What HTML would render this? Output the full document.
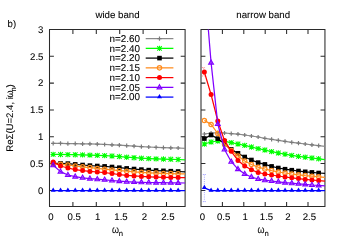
<!DOCTYPE html>
<html><head><meta charset="utf-8"><title>chart</title>
<style>
html,body{margin:0;padding:0;background:#fff;}
body{width:350px;height:246px;position:relative;overflow:hidden;font-family:"Liberation Sans",sans-serif;}
svg text{font-family:"Liberation Sans",sans-serif;font-size:9.6px;fill:#000;stroke:#000;stroke-width:0.08px;text-rendering:geometricPrecision;}
</style></head><body>
<svg width="350" height="246" viewBox="0 0 350 246" style="position:absolute;left:0;top:0;will-change:transform">
<defs><clipPath id="c1"><rect x="49.5" y="29.5" width="135.6" height="176.9"/></clipPath><clipPath id="c2"><rect x="201.0" y="29.5" width="123.94999999999999" height="176.9"/></clipPath></defs>
<path d="M49.5 29.5H185.1V206.4H49.5ZM72.90 206.4v-4.4M72.90 29.5v4.4M96.30 206.4v-4.4M96.30 29.5v4.4M119.70 206.4v-4.4M119.70 29.5v4.4M143.10 206.4v-4.4M143.10 29.5v4.4M166.50 206.4v-4.4M166.50 29.5v4.4M49.5 190.40h4.4M185.1 190.40h-4.4M49.5 163.59h4.4M185.1 163.59h-4.4M49.5 136.77h4.4M185.1 136.77h-4.4M49.5 109.95h4.4M185.1 109.95h-4.4M49.5 83.14h4.4M185.1 83.14h-4.4M49.5 56.32h4.4M185.1 56.32h-4.4" fill="none" stroke="#2a2a2a" stroke-width="1.05" stroke-linejoin="miter"/>
<g clip-path="url(#c1)">
<path d="M53.18 143.40L60.53 143.45L67.88 143.54L75.23 143.66L82.58 143.80L89.93 143.97L97.28 144.21L104.63 144.48L111.99 144.80L119.34 145.22L126.69 145.70L134.04 146.16L141.39 146.61L148.74 147.00L156.09 147.33L163.45 147.60L170.80 147.80L178.15 148.00L185.50 148.30" fill="none" stroke="#8a8a8a" stroke-width="1.25" stroke-linejoin="round"/>
<path d="M51.08 143.40H55.28M53.18 141.30V145.50" stroke="#7a7a7a" stroke-width="1.2" fill="none"/>
<path d="M58.43 143.45H62.63M60.53 141.35V145.55" stroke="#7a7a7a" stroke-width="1.2" fill="none"/>
<path d="M65.78 143.54H69.98M67.88 141.44V145.64" stroke="#7a7a7a" stroke-width="1.2" fill="none"/>
<path d="M73.13 143.66H77.33M75.23 141.56V145.76" stroke="#7a7a7a" stroke-width="1.2" fill="none"/>
<path d="M80.48 143.80H84.68M82.58 141.70V145.90" stroke="#7a7a7a" stroke-width="1.2" fill="none"/>
<path d="M87.83 143.97H92.03M89.93 141.87V146.07" stroke="#7a7a7a" stroke-width="1.2" fill="none"/>
<path d="M95.18 144.21H99.38M97.28 142.11V146.31" stroke="#7a7a7a" stroke-width="1.2" fill="none"/>
<path d="M102.53 144.48H106.73M104.63 142.38V146.58" stroke="#7a7a7a" stroke-width="1.2" fill="none"/>
<path d="M109.89 144.80H114.09M111.99 142.70V146.90" stroke="#7a7a7a" stroke-width="1.2" fill="none"/>
<path d="M117.24 145.22H121.44M119.34 143.12V147.32" stroke="#7a7a7a" stroke-width="1.2" fill="none"/>
<path d="M124.59 145.70H128.79M126.69 143.60V147.80" stroke="#7a7a7a" stroke-width="1.2" fill="none"/>
<path d="M131.94 146.16H136.14M134.04 144.06V148.26" stroke="#7a7a7a" stroke-width="1.2" fill="none"/>
<path d="M139.29 146.61H143.49M141.39 144.51V148.71" stroke="#7a7a7a" stroke-width="1.2" fill="none"/>
<path d="M146.64 147.00H150.84M148.74 144.90V149.10" stroke="#7a7a7a" stroke-width="1.2" fill="none"/>
<path d="M153.99 147.33H158.19M156.09 145.23V149.43" stroke="#7a7a7a" stroke-width="1.2" fill="none"/>
<path d="M161.35 147.60H165.55M163.45 145.50V149.70" stroke="#7a7a7a" stroke-width="1.2" fill="none"/>
<path d="M168.70 147.80H172.90M170.80 145.70V149.90" stroke="#7a7a7a" stroke-width="1.2" fill="none"/>
<path d="M176.05 148.00H180.25M178.15 145.90V150.10" stroke="#7a7a7a" stroke-width="1.2" fill="none"/>
<path d="M53.18 154.40L60.53 154.47L67.88 154.59L75.23 154.73L82.58 154.90L89.93 155.09L97.28 155.34L104.63 155.64L111.99 156.00L119.34 156.57L126.69 157.20L134.04 157.73L141.39 158.22L148.74 158.60L156.09 158.86L163.45 159.07L170.80 159.27L178.15 159.50L185.50 159.80" fill="none" stroke="#00ff00" stroke-width="1.25" stroke-linejoin="round"/>
<path d="M50.48 154.40H55.88M53.18 151.70V157.10M50.88 152.10L55.48 156.70M50.88 156.70L55.48 152.10" stroke="#00ff00" stroke-width="1.05" fill="none"/>
<path d="M57.83 154.47H63.23M60.53 151.77V157.17M58.23 152.17L62.83 156.77M58.23 156.77L62.83 152.17" stroke="#00ff00" stroke-width="1.05" fill="none"/>
<path d="M65.18 154.59H70.58M67.88 151.89V157.29M65.58 152.29L70.18 156.89M65.58 156.89L70.18 152.29" stroke="#00ff00" stroke-width="1.05" fill="none"/>
<path d="M72.53 154.73H77.93M75.23 152.03V157.43M72.93 152.43L77.53 157.03M72.93 157.03L77.53 152.43" stroke="#00ff00" stroke-width="1.05" fill="none"/>
<path d="M79.88 154.90H85.28M82.58 152.20V157.60M80.28 152.60L84.88 157.20M80.28 157.20L84.88 152.60" stroke="#00ff00" stroke-width="1.05" fill="none"/>
<path d="M87.23 155.09H92.63M89.93 152.39V157.79M87.63 152.79L92.23 157.39M87.63 157.39L92.23 152.79" stroke="#00ff00" stroke-width="1.05" fill="none"/>
<path d="M94.58 155.34H99.98M97.28 152.64V158.04M94.98 153.04L99.58 157.64M94.98 157.64L99.58 153.04" stroke="#00ff00" stroke-width="1.05" fill="none"/>
<path d="M101.93 155.64H107.33M104.63 152.94V158.34M102.33 153.34L106.93 157.94M102.33 157.94L106.93 153.34" stroke="#00ff00" stroke-width="1.05" fill="none"/>
<path d="M109.29 156.00H114.69M111.99 153.30V158.70M109.69 153.70L114.29 158.30M109.69 158.30L114.29 153.70" stroke="#00ff00" stroke-width="1.05" fill="none"/>
<path d="M116.64 156.57H122.04M119.34 153.87V159.27M117.04 154.27L121.64 158.87M117.04 158.87L121.64 154.27" stroke="#00ff00" stroke-width="1.05" fill="none"/>
<path d="M123.99 157.20H129.39M126.69 154.50V159.90M124.39 154.90L128.99 159.50M124.39 159.50L128.99 154.90" stroke="#00ff00" stroke-width="1.05" fill="none"/>
<path d="M131.34 157.73H136.74M134.04 155.03V160.43M131.74 155.43L136.34 160.03M131.74 160.03L136.34 155.43" stroke="#00ff00" stroke-width="1.05" fill="none"/>
<path d="M138.69 158.22H144.09M141.39 155.52V160.92M139.09 155.92L143.69 160.52M139.09 160.52L143.69 155.92" stroke="#00ff00" stroke-width="1.05" fill="none"/>
<path d="M146.04 158.60H151.44M148.74 155.90V161.30M146.44 156.30L151.04 160.90M146.44 160.90L151.04 156.30" stroke="#00ff00" stroke-width="1.05" fill="none"/>
<path d="M153.39 158.86H158.79M156.09 156.16V161.56M153.79 156.56L158.39 161.16M153.79 161.16L158.39 156.56" stroke="#00ff00" stroke-width="1.05" fill="none"/>
<path d="M160.75 159.07H166.15M163.45 156.37V161.77M161.15 156.77L165.75 161.37M161.15 161.37L165.75 156.77" stroke="#00ff00" stroke-width="1.05" fill="none"/>
<path d="M168.10 159.27H173.50M170.80 156.57V161.97M168.50 156.97L173.10 161.57M168.50 161.57L173.10 156.97" stroke="#00ff00" stroke-width="1.05" fill="none"/>
<path d="M175.45 159.50H180.85M178.15 156.80V162.20M175.85 157.20L180.45 161.80M175.85 161.80L180.45 157.20" stroke="#00ff00" stroke-width="1.05" fill="none"/>
<path d="M53.18 163.40L60.53 163.45L67.88 163.60L75.23 164.40L82.58 165.00L89.93 165.60L97.28 166.00L104.63 166.40L111.99 167.00L119.34 167.70L126.69 168.40L134.04 169.02L141.39 169.60L148.74 170.10L156.09 170.51L163.45 170.86L170.80 171.18L178.15 171.50L185.50 171.80" fill="none" stroke="#000000" stroke-width="1.25" stroke-linejoin="round"/>
<rect x="50.88" y="161.10" width="4.60" height="4.60" fill="#000000"/>
<rect x="58.23" y="161.15" width="4.60" height="4.60" fill="#000000"/>
<rect x="65.58" y="161.30" width="4.60" height="4.60" fill="#000000"/>
<rect x="72.93" y="162.10" width="4.60" height="4.60" fill="#000000"/>
<rect x="80.28" y="162.70" width="4.60" height="4.60" fill="#000000"/>
<rect x="87.63" y="163.30" width="4.60" height="4.60" fill="#000000"/>
<rect x="94.98" y="163.70" width="4.60" height="4.60" fill="#000000"/>
<rect x="102.33" y="164.10" width="4.60" height="4.60" fill="#000000"/>
<rect x="109.69" y="164.70" width="4.60" height="4.60" fill="#000000"/>
<rect x="117.04" y="165.40" width="4.60" height="4.60" fill="#000000"/>
<rect x="124.39" y="166.10" width="4.60" height="4.60" fill="#000000"/>
<rect x="131.74" y="166.72" width="4.60" height="4.60" fill="#000000"/>
<rect x="139.09" y="167.30" width="4.60" height="4.60" fill="#000000"/>
<rect x="146.44" y="167.80" width="4.60" height="4.60" fill="#000000"/>
<rect x="153.79" y="168.21" width="4.60" height="4.60" fill="#000000"/>
<rect x="161.15" y="168.56" width="4.60" height="4.60" fill="#000000"/>
<rect x="168.50" y="168.88" width="4.60" height="4.60" fill="#000000"/>
<rect x="175.85" y="169.20" width="4.60" height="4.60" fill="#000000"/>
<path d="M53.18 164.00L60.53 164.37L67.88 165.00L75.23 166.00L82.58 166.80L89.93 167.60L97.28 168.40L104.63 169.20L111.99 169.90L119.34 170.57L126.69 171.20L134.04 171.80L141.39 172.36L148.74 172.80L156.09 173.13L163.45 173.41L170.80 173.63L178.15 173.80L185.50 173.90" fill="none" stroke="#ff8c1e" stroke-width="1.25" stroke-linejoin="round"/>
<circle cx="53.18" cy="164.00" r="2.15" fill="none" stroke="#ff8c1e" stroke-width="1.25"/>
<circle cx="60.53" cy="164.37" r="2.15" fill="none" stroke="#ff8c1e" stroke-width="1.25"/>
<circle cx="67.88" cy="165.00" r="2.15" fill="none" stroke="#ff8c1e" stroke-width="1.25"/>
<circle cx="75.23" cy="166.00" r="2.15" fill="none" stroke="#ff8c1e" stroke-width="1.25"/>
<circle cx="82.58" cy="166.80" r="2.15" fill="none" stroke="#ff8c1e" stroke-width="1.25"/>
<circle cx="89.93" cy="167.60" r="2.15" fill="none" stroke="#ff8c1e" stroke-width="1.25"/>
<circle cx="97.28" cy="168.40" r="2.15" fill="none" stroke="#ff8c1e" stroke-width="1.25"/>
<circle cx="104.63" cy="169.20" r="2.15" fill="none" stroke="#ff8c1e" stroke-width="1.25"/>
<circle cx="111.99" cy="169.90" r="2.15" fill="none" stroke="#ff8c1e" stroke-width="1.25"/>
<circle cx="119.34" cy="170.57" r="2.15" fill="none" stroke="#ff8c1e" stroke-width="1.25"/>
<circle cx="126.69" cy="171.20" r="2.15" fill="none" stroke="#ff8c1e" stroke-width="1.25"/>
<circle cx="134.04" cy="171.80" r="2.15" fill="none" stroke="#ff8c1e" stroke-width="1.25"/>
<circle cx="141.39" cy="172.36" r="2.15" fill="none" stroke="#ff8c1e" stroke-width="1.25"/>
<circle cx="148.74" cy="172.80" r="2.15" fill="none" stroke="#ff8c1e" stroke-width="1.25"/>
<circle cx="156.09" cy="173.13" r="2.15" fill="none" stroke="#ff8c1e" stroke-width="1.25"/>
<circle cx="163.45" cy="173.41" r="2.15" fill="none" stroke="#ff8c1e" stroke-width="1.25"/>
<circle cx="170.80" cy="173.63" r="2.15" fill="none" stroke="#ff8c1e" stroke-width="1.25"/>
<circle cx="178.15" cy="173.80" r="2.15" fill="none" stroke="#ff8c1e" stroke-width="1.25"/>
<path d="M53.18 162.00L60.53 166.00L67.88 168.00L75.23 169.60L82.58 170.60L89.93 171.40L97.28 172.00L104.63 172.60L111.99 173.50L119.34 174.52L126.69 175.40L134.04 175.98L141.39 176.45L148.74 176.80L156.09 177.06L163.45 177.28L170.80 177.46L178.15 177.60L185.50 177.70" fill="none" stroke="#ff0000" stroke-width="1.25" stroke-linejoin="round"/>
<circle cx="53.18" cy="162.00" r="2.5" fill="#ff0000"/>
<circle cx="60.53" cy="166.00" r="2.5" fill="#ff0000"/>
<circle cx="67.88" cy="168.00" r="2.5" fill="#ff0000"/>
<circle cx="75.23" cy="169.60" r="2.5" fill="#ff0000"/>
<circle cx="82.58" cy="170.60" r="2.5" fill="#ff0000"/>
<circle cx="89.93" cy="171.40" r="2.5" fill="#ff0000"/>
<circle cx="97.28" cy="172.00" r="2.5" fill="#ff0000"/>
<circle cx="104.63" cy="172.60" r="2.5" fill="#ff0000"/>
<circle cx="111.99" cy="173.50" r="2.5" fill="#ff0000"/>
<circle cx="119.34" cy="174.52" r="2.5" fill="#ff0000"/>
<circle cx="126.69" cy="175.40" r="2.5" fill="#ff0000"/>
<circle cx="134.04" cy="175.98" r="2.5" fill="#ff0000"/>
<circle cx="141.39" cy="176.45" r="2.5" fill="#ff0000"/>
<circle cx="148.74" cy="176.80" r="2.5" fill="#ff0000"/>
<circle cx="156.09" cy="177.06" r="2.5" fill="#ff0000"/>
<circle cx="163.45" cy="177.28" r="2.5" fill="#ff0000"/>
<circle cx="170.80" cy="177.46" r="2.5" fill="#ff0000"/>
<circle cx="178.15" cy="177.60" r="2.5" fill="#ff0000"/>
<path d="M53.18 165.20L60.53 171.60L67.88 175.00L75.23 176.60L82.58 177.80L89.93 178.60L97.28 179.20L104.63 179.80L111.99 180.50L119.34 181.17L126.69 181.70L134.04 182.04L141.39 182.31L148.74 182.50L156.09 182.63L163.45 182.72L170.80 182.81L178.15 182.90L185.50 183.00" fill="none" stroke="#8000ff" stroke-width="1.25" stroke-linejoin="round"/>
<path d="M53.18 162.50L55.58 166.70H50.78Z" fill="#8000ff" fill-opacity="0.4" stroke="#8000ff" stroke-width="1.1" stroke-linejoin="miter"/>
<path d="M60.53 168.90L62.93 173.10H58.13Z" fill="#8000ff" fill-opacity="0.4" stroke="#8000ff" stroke-width="1.1" stroke-linejoin="miter"/>
<path d="M67.88 172.30L70.28 176.50H65.48Z" fill="#8000ff" fill-opacity="0.4" stroke="#8000ff" stroke-width="1.1" stroke-linejoin="miter"/>
<path d="M75.23 173.90L77.63 178.10H72.83Z" fill="#8000ff" fill-opacity="0.4" stroke="#8000ff" stroke-width="1.1" stroke-linejoin="miter"/>
<path d="M82.58 175.10L84.98 179.30H80.18Z" fill="#8000ff" fill-opacity="0.4" stroke="#8000ff" stroke-width="1.1" stroke-linejoin="miter"/>
<path d="M89.93 175.90L92.33 180.10H87.53Z" fill="#8000ff" fill-opacity="0.4" stroke="#8000ff" stroke-width="1.1" stroke-linejoin="miter"/>
<path d="M97.28 176.50L99.68 180.70H94.88Z" fill="#8000ff" fill-opacity="0.4" stroke="#8000ff" stroke-width="1.1" stroke-linejoin="miter"/>
<path d="M104.63 177.10L107.03 181.30H102.23Z" fill="#8000ff" fill-opacity="0.4" stroke="#8000ff" stroke-width="1.1" stroke-linejoin="miter"/>
<path d="M111.99 177.80L114.39 182.00H109.59Z" fill="#8000ff" fill-opacity="0.4" stroke="#8000ff" stroke-width="1.1" stroke-linejoin="miter"/>
<path d="M119.34 178.47L121.74 182.67H116.94Z" fill="#8000ff" fill-opacity="0.4" stroke="#8000ff" stroke-width="1.1" stroke-linejoin="miter"/>
<path d="M126.69 179.00L129.09 183.20H124.29Z" fill="#8000ff" fill-opacity="0.4" stroke="#8000ff" stroke-width="1.1" stroke-linejoin="miter"/>
<path d="M134.04 179.34L136.44 183.54H131.64Z" fill="#8000ff" fill-opacity="0.4" stroke="#8000ff" stroke-width="1.1" stroke-linejoin="miter"/>
<path d="M141.39 179.61L143.79 183.81H138.99Z" fill="#8000ff" fill-opacity="0.4" stroke="#8000ff" stroke-width="1.1" stroke-linejoin="miter"/>
<path d="M148.74 179.80L151.14 184.00H146.34Z" fill="#8000ff" fill-opacity="0.4" stroke="#8000ff" stroke-width="1.1" stroke-linejoin="miter"/>
<path d="M156.09 179.93L158.49 184.13H153.69Z" fill="#8000ff" fill-opacity="0.4" stroke="#8000ff" stroke-width="1.1" stroke-linejoin="miter"/>
<path d="M163.45 180.02L165.85 184.22H161.05Z" fill="#8000ff" fill-opacity="0.4" stroke="#8000ff" stroke-width="1.1" stroke-linejoin="miter"/>
<path d="M170.80 180.11L173.20 184.31H168.40Z" fill="#8000ff" fill-opacity="0.4" stroke="#8000ff" stroke-width="1.1" stroke-linejoin="miter"/>
<path d="M178.15 180.20L180.55 184.40H175.75Z" fill="#8000ff" fill-opacity="0.4" stroke="#8000ff" stroke-width="1.1" stroke-linejoin="miter"/>
<path d="M53.18 190.60L60.53 190.60L67.88 190.60L75.23 190.60L82.58 190.60L89.93 190.60L97.28 190.60L104.63 190.60L111.99 190.60L119.34 190.60L126.69 190.60L134.04 190.60L141.39 190.60L148.74 190.60L156.09 190.60L163.45 190.60L170.80 190.60L178.15 190.60L185.50 190.60" fill="none" stroke="#0000ff" stroke-width="1.25" stroke-linejoin="round"/>
<path d="M53.18 187.60L55.68 191.80H50.68Z" fill="#0000ff"/>
<path d="M60.53 187.60L63.03 191.80H58.03Z" fill="#0000ff"/>
<path d="M67.88 187.60L70.38 191.80H65.38Z" fill="#0000ff"/>
<path d="M75.23 187.60L77.73 191.80H72.73Z" fill="#0000ff"/>
<path d="M82.58 187.60L85.08 191.80H80.08Z" fill="#0000ff"/>
<path d="M89.93 187.60L92.43 191.80H87.43Z" fill="#0000ff"/>
<path d="M97.28 187.60L99.78 191.80H94.78Z" fill="#0000ff"/>
<path d="M104.63 187.60L107.13 191.80H102.13Z" fill="#0000ff"/>
<path d="M111.99 187.60L114.49 191.80H109.49Z" fill="#0000ff"/>
<path d="M119.34 187.60L121.84 191.80H116.84Z" fill="#0000ff"/>
<path d="M126.69 187.60L129.19 191.80H124.19Z" fill="#0000ff"/>
<path d="M134.04 187.60L136.54 191.80H131.54Z" fill="#0000ff"/>
<path d="M141.39 187.60L143.89 191.80H138.89Z" fill="#0000ff"/>
<path d="M148.74 187.60L151.24 191.80H146.24Z" fill="#0000ff"/>
<path d="M156.09 187.60L158.59 191.80H153.59Z" fill="#0000ff"/>
<path d="M163.45 187.60L165.95 191.80H160.95Z" fill="#0000ff"/>
<path d="M170.80 187.60L173.30 191.80H168.30Z" fill="#0000ff"/>
<path d="M178.15 187.60L180.65 191.80H175.65Z" fill="#0000ff"/>
</g>
<path d="M201.0 29.5H324.95V206.4H201.0ZM222.40 206.4v-4.4M222.40 29.5v4.4M243.80 206.4v-4.4M243.80 29.5v4.4M265.20 206.4v-4.4M265.20 29.5v4.4M286.60 206.4v-4.4M286.60 29.5v4.4M308.00 206.4v-4.4M308.00 29.5v4.4M201.0 190.40h4.4M324.95 190.40h-4.4M201.0 163.59h4.4M324.95 163.59h-4.4M201.0 136.77h4.4M324.95 136.77h-4.4M201.0 109.95h4.4M324.95 109.95h-4.4M201.0 83.14h4.4M324.95 83.14h-4.4M201.0 56.32h4.4M324.95 56.32h-4.4" fill="none" stroke="#2a2a2a" stroke-width="1.05" stroke-linejoin="miter"/>
<path d="M204.36 174.5V201.6M202.86 174.5h3M202.86 201.6h3" stroke="#0000ff" stroke-opacity="0.45" stroke-width="0.8" stroke-dasharray="1 1.2" fill="none"/>
<path d="M203.56 67.6V76M202.06 67.6h3M202.06 76h3" stroke="#ff0000" stroke-opacity="0.55" stroke-width="0.8" stroke-dasharray="1 1.2" fill="none"/>
<g clip-path="url(#c2)">
<path d="M204.36 134.00L211.08 133.00L217.81 132.60L224.53 133.00L231.25 133.60L237.98 134.20L244.70 135.00L251.42 136.00L258.15 137.00L264.87 138.40L271.59 139.40L278.31 140.40L285.04 141.40L291.76 142.40L298.48 143.20L305.21 144.00L311.93 144.80L318.65 145.60L325.38 146.40" fill="none" stroke="#8a8a8a" stroke-width="1.25" stroke-linejoin="round"/>
<path d="M202.26 134.00H206.46M204.36 131.90V136.10" stroke="#7a7a7a" stroke-width="1.2" fill="none"/>
<path d="M208.98 133.00H213.18M211.08 130.90V135.10" stroke="#7a7a7a" stroke-width="1.2" fill="none"/>
<path d="M215.71 132.60H219.91M217.81 130.50V134.70" stroke="#7a7a7a" stroke-width="1.2" fill="none"/>
<path d="M222.43 133.00H226.63M224.53 130.90V135.10" stroke="#7a7a7a" stroke-width="1.2" fill="none"/>
<path d="M229.15 133.60H233.35M231.25 131.50V135.70" stroke="#7a7a7a" stroke-width="1.2" fill="none"/>
<path d="M235.88 134.20H240.08M237.98 132.10V136.30" stroke="#7a7a7a" stroke-width="1.2" fill="none"/>
<path d="M242.60 135.00H246.80M244.70 132.90V137.10" stroke="#7a7a7a" stroke-width="1.2" fill="none"/>
<path d="M249.32 136.00H253.52M251.42 133.90V138.10" stroke="#7a7a7a" stroke-width="1.2" fill="none"/>
<path d="M256.05 137.00H260.25M258.15 134.90V139.10" stroke="#7a7a7a" stroke-width="1.2" fill="none"/>
<path d="M262.77 138.40H266.97M264.87 136.30V140.50" stroke="#7a7a7a" stroke-width="1.2" fill="none"/>
<path d="M269.49 139.40H273.69M271.59 137.30V141.50" stroke="#7a7a7a" stroke-width="1.2" fill="none"/>
<path d="M276.21 140.40H280.41M278.31 138.30V142.50" stroke="#7a7a7a" stroke-width="1.2" fill="none"/>
<path d="M282.94 141.40H287.14M285.04 139.30V143.50" stroke="#7a7a7a" stroke-width="1.2" fill="none"/>
<path d="M289.66 142.40H293.86M291.76 140.30V144.50" stroke="#7a7a7a" stroke-width="1.2" fill="none"/>
<path d="M296.38 143.20H300.58M298.48 141.10V145.30" stroke="#7a7a7a" stroke-width="1.2" fill="none"/>
<path d="M303.11 144.00H307.31M305.21 141.90V146.10" stroke="#7a7a7a" stroke-width="1.2" fill="none"/>
<path d="M309.83 144.80H314.03M311.93 142.70V146.90" stroke="#7a7a7a" stroke-width="1.2" fill="none"/>
<path d="M316.55 145.60H320.75M318.65 143.50V147.70" stroke="#7a7a7a" stroke-width="1.2" fill="none"/>
<path d="M204.36 144.00L211.08 142.00L217.81 141.00L224.53 141.40L231.25 142.60L237.98 144.00L244.70 145.40L251.42 147.00L258.15 148.60L264.87 150.00L271.59 151.60L278.31 153.00L285.04 154.20L291.76 155.40L298.48 156.40L305.21 157.20L311.93 158.00L318.65 158.80L325.38 159.60" fill="none" stroke="#00ff00" stroke-width="1.25" stroke-linejoin="round"/>
<path d="M201.66 144.00H207.06M204.36 141.30V146.70M202.06 141.70L206.66 146.30M202.06 146.30L206.66 141.70" stroke="#00ff00" stroke-width="1.05" fill="none"/>
<path d="M208.38 142.00H213.78M211.08 139.30V144.70M208.78 139.70L213.38 144.30M208.78 144.30L213.38 139.70" stroke="#00ff00" stroke-width="1.05" fill="none"/>
<path d="M215.11 141.00H220.51M217.81 138.30V143.70M215.51 138.70L220.11 143.30M215.51 143.30L220.11 138.70" stroke="#00ff00" stroke-width="1.05" fill="none"/>
<path d="M221.83 141.40H227.23M224.53 138.70V144.10M222.23 139.10L226.83 143.70M222.23 143.70L226.83 139.10" stroke="#00ff00" stroke-width="1.05" fill="none"/>
<path d="M228.55 142.60H233.95M231.25 139.90V145.30M228.95 140.30L233.55 144.90M228.95 144.90L233.55 140.30" stroke="#00ff00" stroke-width="1.05" fill="none"/>
<path d="M235.28 144.00H240.68M237.98 141.30V146.70M235.68 141.70L240.28 146.30M235.68 146.30L240.28 141.70" stroke="#00ff00" stroke-width="1.05" fill="none"/>
<path d="M242.00 145.40H247.40M244.70 142.70V148.10M242.40 143.10L247.00 147.70M242.40 147.70L247.00 143.10" stroke="#00ff00" stroke-width="1.05" fill="none"/>
<path d="M248.72 147.00H254.12M251.42 144.30V149.70M249.12 144.70L253.72 149.30M249.12 149.30L253.72 144.70" stroke="#00ff00" stroke-width="1.05" fill="none"/>
<path d="M255.45 148.60H260.85M258.15 145.90V151.30M255.85 146.30L260.45 150.90M255.85 150.90L260.45 146.30" stroke="#00ff00" stroke-width="1.05" fill="none"/>
<path d="M262.17 150.00H267.57M264.87 147.30V152.70M262.57 147.70L267.17 152.30M262.57 152.30L267.17 147.70" stroke="#00ff00" stroke-width="1.05" fill="none"/>
<path d="M268.89 151.60H274.29M271.59 148.90V154.30M269.29 149.30L273.89 153.90M269.29 153.90L273.89 149.30" stroke="#00ff00" stroke-width="1.05" fill="none"/>
<path d="M275.61 153.00H281.01M278.31 150.30V155.70M276.01 150.70L280.61 155.30M276.01 155.30L280.61 150.70" stroke="#00ff00" stroke-width="1.05" fill="none"/>
<path d="M282.34 154.20H287.74M285.04 151.50V156.90M282.74 151.90L287.34 156.50M282.74 156.50L287.34 151.90" stroke="#00ff00" stroke-width="1.05" fill="none"/>
<path d="M289.06 155.40H294.46M291.76 152.70V158.10M289.46 153.10L294.06 157.70M289.46 157.70L294.06 153.10" stroke="#00ff00" stroke-width="1.05" fill="none"/>
<path d="M295.78 156.40H301.18M298.48 153.70V159.10M296.18 154.10L300.78 158.70M296.18 158.70L300.78 154.10" stroke="#00ff00" stroke-width="1.05" fill="none"/>
<path d="M302.51 157.20H307.91M305.21 154.50V159.90M302.91 154.90L307.51 159.50M302.91 159.50L307.51 154.90" stroke="#00ff00" stroke-width="1.05" fill="none"/>
<path d="M309.23 158.00H314.63M311.93 155.30V160.70M309.63 155.70L314.23 160.30M309.63 160.30L314.23 155.70" stroke="#00ff00" stroke-width="1.05" fill="none"/>
<path d="M315.95 158.80H321.35M318.65 156.10V161.50M316.35 156.50L320.95 161.10M316.35 161.10L320.95 156.50" stroke="#00ff00" stroke-width="1.05" fill="none"/>
<path d="M204.36 138.60L211.08 135.00L217.81 138.60L224.53 144.00L231.25 149.40L237.98 153.30L244.70 157.00L251.42 160.00L258.15 162.60L264.87 164.40L271.59 166.40L278.31 168.00L285.04 169.20L291.76 170.20L298.48 171.00L305.21 171.80L311.93 172.40L318.65 173.00L325.38 173.50" fill="none" stroke="#000000" stroke-width="1.25" stroke-linejoin="round"/>
<rect x="202.06" y="136.30" width="4.60" height="4.60" fill="#000000"/>
<rect x="208.78" y="132.70" width="4.60" height="4.60" fill="#000000"/>
<rect x="215.51" y="136.30" width="4.60" height="4.60" fill="#000000"/>
<rect x="222.23" y="141.70" width="4.60" height="4.60" fill="#000000"/>
<rect x="228.95" y="147.10" width="4.60" height="4.60" fill="#000000"/>
<rect x="235.68" y="151.00" width="4.60" height="4.60" fill="#000000"/>
<rect x="242.40" y="154.70" width="4.60" height="4.60" fill="#000000"/>
<rect x="249.12" y="157.70" width="4.60" height="4.60" fill="#000000"/>
<rect x="255.85" y="160.30" width="4.60" height="4.60" fill="#000000"/>
<rect x="262.57" y="162.10" width="4.60" height="4.60" fill="#000000"/>
<rect x="269.29" y="164.10" width="4.60" height="4.60" fill="#000000"/>
<rect x="276.01" y="165.70" width="4.60" height="4.60" fill="#000000"/>
<rect x="282.74" y="166.90" width="4.60" height="4.60" fill="#000000"/>
<rect x="289.46" y="167.90" width="4.60" height="4.60" fill="#000000"/>
<rect x="296.18" y="168.70" width="4.60" height="4.60" fill="#000000"/>
<rect x="302.91" y="169.50" width="4.60" height="4.60" fill="#000000"/>
<rect x="309.63" y="170.10" width="4.60" height="4.60" fill="#000000"/>
<rect x="316.35" y="170.70" width="4.60" height="4.60" fill="#000000"/>
<path d="M204.36 120.40L211.08 124.40L217.81 133.50L224.53 144.00L231.25 150.60L237.98 156.00L244.70 161.00L251.42 164.50L258.15 167.20L264.87 169.00L271.59 170.60L278.31 172.00L285.04 173.00L291.76 174.00L298.48 174.80L305.21 175.60L311.93 176.20L318.65 176.80L325.38 177.30" fill="none" stroke="#ff8c1e" stroke-width="1.25" stroke-linejoin="round"/>
<circle cx="204.36" cy="120.40" r="2.15" fill="none" stroke="#ff8c1e" stroke-width="1.25"/>
<circle cx="211.08" cy="124.40" r="2.15" fill="none" stroke="#ff8c1e" stroke-width="1.25"/>
<circle cx="217.81" cy="133.50" r="2.15" fill="none" stroke="#ff8c1e" stroke-width="1.25"/>
<circle cx="224.53" cy="144.00" r="2.15" fill="none" stroke="#ff8c1e" stroke-width="1.25"/>
<circle cx="231.25" cy="150.60" r="2.15" fill="none" stroke="#ff8c1e" stroke-width="1.25"/>
<circle cx="237.98" cy="156.00" r="2.15" fill="none" stroke="#ff8c1e" stroke-width="1.25"/>
<circle cx="244.70" cy="161.00" r="2.15" fill="none" stroke="#ff8c1e" stroke-width="1.25"/>
<circle cx="251.42" cy="164.50" r="2.15" fill="none" stroke="#ff8c1e" stroke-width="1.25"/>
<circle cx="258.15" cy="167.20" r="2.15" fill="none" stroke="#ff8c1e" stroke-width="1.25"/>
<circle cx="264.87" cy="169.00" r="2.15" fill="none" stroke="#ff8c1e" stroke-width="1.25"/>
<circle cx="271.59" cy="170.60" r="2.15" fill="none" stroke="#ff8c1e" stroke-width="1.25"/>
<circle cx="278.31" cy="172.00" r="2.15" fill="none" stroke="#ff8c1e" stroke-width="1.25"/>
<circle cx="285.04" cy="173.00" r="2.15" fill="none" stroke="#ff8c1e" stroke-width="1.25"/>
<circle cx="291.76" cy="174.00" r="2.15" fill="none" stroke="#ff8c1e" stroke-width="1.25"/>
<circle cx="298.48" cy="174.80" r="2.15" fill="none" stroke="#ff8c1e" stroke-width="1.25"/>
<circle cx="305.21" cy="175.60" r="2.15" fill="none" stroke="#ff8c1e" stroke-width="1.25"/>
<circle cx="311.93" cy="176.20" r="2.15" fill="none" stroke="#ff8c1e" stroke-width="1.25"/>
<circle cx="318.65" cy="176.80" r="2.15" fill="none" stroke="#ff8c1e" stroke-width="1.25"/>
<path d="M204.36 72.00L211.08 94.60L217.81 121.00L224.53 140.60L231.25 151.30L237.98 160.50L244.70 166.00L251.42 169.80L258.15 172.50L264.87 174.00L271.59 175.00L278.31 176.00L285.04 177.00L291.76 177.80L298.48 178.60L305.21 179.40L311.93 180.00L318.65 180.60L325.38 181.10" fill="none" stroke="#ff0000" stroke-width="1.25" stroke-linejoin="round"/>
<circle cx="204.36" cy="72.00" r="2.5" fill="#ff0000"/>
<circle cx="211.08" cy="94.60" r="2.5" fill="#ff0000"/>
<circle cx="217.81" cy="121.00" r="2.5" fill="#ff0000"/>
<circle cx="224.53" cy="140.60" r="2.5" fill="#ff0000"/>
<circle cx="231.25" cy="151.30" r="2.5" fill="#ff0000"/>
<circle cx="237.98" cy="160.50" r="2.5" fill="#ff0000"/>
<circle cx="244.70" cy="166.00" r="2.5" fill="#ff0000"/>
<circle cx="251.42" cy="169.80" r="2.5" fill="#ff0000"/>
<circle cx="258.15" cy="172.50" r="2.5" fill="#ff0000"/>
<circle cx="264.87" cy="174.00" r="2.5" fill="#ff0000"/>
<circle cx="271.59" cy="175.00" r="2.5" fill="#ff0000"/>
<circle cx="278.31" cy="176.00" r="2.5" fill="#ff0000"/>
<circle cx="285.04" cy="177.00" r="2.5" fill="#ff0000"/>
<circle cx="291.76" cy="177.80" r="2.5" fill="#ff0000"/>
<circle cx="298.48" cy="178.60" r="2.5" fill="#ff0000"/>
<circle cx="305.21" cy="179.40" r="2.5" fill="#ff0000"/>
<circle cx="311.93" cy="180.00" r="2.5" fill="#ff0000"/>
<circle cx="318.65" cy="180.60" r="2.5" fill="#ff0000"/>
<path d="M204.36 -18.60L211.08 62.60L217.81 124.00L224.53 149.50L231.25 161.70L237.98 169.10L244.70 174.00L251.42 177.00L258.15 179.00L264.87 180.20L271.59 181.00L278.31 181.80L285.04 182.60L291.76 183.20L298.48 183.80L305.21 184.40L311.93 185.00L318.65 185.40L325.38 185.80" fill="none" stroke="#8000ff" stroke-width="1.25" stroke-linejoin="round"/>
<path d="M211.08 59.90L213.48 64.10H208.68Z" fill="#8000ff" fill-opacity="0.4" stroke="#8000ff" stroke-width="1.1" stroke-linejoin="miter"/>
<path d="M217.81 121.30L220.21 125.50H215.41Z" fill="#8000ff" fill-opacity="0.4" stroke="#8000ff" stroke-width="1.1" stroke-linejoin="miter"/>
<path d="M224.53 146.80L226.93 151.00H222.13Z" fill="#8000ff" fill-opacity="0.4" stroke="#8000ff" stroke-width="1.1" stroke-linejoin="miter"/>
<path d="M231.25 159.00L233.65 163.20H228.85Z" fill="#8000ff" fill-opacity="0.4" stroke="#8000ff" stroke-width="1.1" stroke-linejoin="miter"/>
<path d="M237.98 166.40L240.38 170.60H235.58Z" fill="#8000ff" fill-opacity="0.4" stroke="#8000ff" stroke-width="1.1" stroke-linejoin="miter"/>
<path d="M244.70 171.30L247.10 175.50H242.30Z" fill="#8000ff" fill-opacity="0.4" stroke="#8000ff" stroke-width="1.1" stroke-linejoin="miter"/>
<path d="M251.42 174.30L253.82 178.50H249.02Z" fill="#8000ff" fill-opacity="0.4" stroke="#8000ff" stroke-width="1.1" stroke-linejoin="miter"/>
<path d="M258.15 176.30L260.55 180.50H255.75Z" fill="#8000ff" fill-opacity="0.4" stroke="#8000ff" stroke-width="1.1" stroke-linejoin="miter"/>
<path d="M264.87 177.50L267.27 181.70H262.47Z" fill="#8000ff" fill-opacity="0.4" stroke="#8000ff" stroke-width="1.1" stroke-linejoin="miter"/>
<path d="M271.59 178.30L273.99 182.50H269.19Z" fill="#8000ff" fill-opacity="0.4" stroke="#8000ff" stroke-width="1.1" stroke-linejoin="miter"/>
<path d="M278.31 179.10L280.71 183.30H275.91Z" fill="#8000ff" fill-opacity="0.4" stroke="#8000ff" stroke-width="1.1" stroke-linejoin="miter"/>
<path d="M285.04 179.90L287.44 184.10H282.64Z" fill="#8000ff" fill-opacity="0.4" stroke="#8000ff" stroke-width="1.1" stroke-linejoin="miter"/>
<path d="M291.76 180.50L294.16 184.70H289.36Z" fill="#8000ff" fill-opacity="0.4" stroke="#8000ff" stroke-width="1.1" stroke-linejoin="miter"/>
<path d="M298.48 181.10L300.88 185.30H296.08Z" fill="#8000ff" fill-opacity="0.4" stroke="#8000ff" stroke-width="1.1" stroke-linejoin="miter"/>
<path d="M305.21 181.70L307.61 185.90H302.81Z" fill="#8000ff" fill-opacity="0.4" stroke="#8000ff" stroke-width="1.1" stroke-linejoin="miter"/>
<path d="M311.93 182.30L314.33 186.50H309.53Z" fill="#8000ff" fill-opacity="0.4" stroke="#8000ff" stroke-width="1.1" stroke-linejoin="miter"/>
<path d="M318.65 182.70L321.05 186.90H316.25Z" fill="#8000ff" fill-opacity="0.4" stroke="#8000ff" stroke-width="1.1" stroke-linejoin="miter"/>
<path d="M204.36 187.80L211.08 190.60L217.81 190.60L224.53 190.60L231.25 190.60L237.98 190.60L244.70 190.60L251.42 190.60L258.15 190.60L264.87 190.60L271.59 190.60L278.31 190.60L285.04 190.60L291.76 190.60L298.48 190.60L305.21 190.60L311.93 190.60L318.65 190.60L325.38 190.60" fill="none" stroke="#0000ff" stroke-width="1.25" stroke-linejoin="round"/>
<path d="M204.36 184.80L206.86 189.00H201.86Z" fill="#0000ff"/>
<path d="M211.08 187.60L213.58 191.80H208.58Z" fill="#0000ff"/>
<path d="M217.81 187.60L220.31 191.80H215.31Z" fill="#0000ff"/>
<path d="M224.53 187.60L227.03 191.80H222.03Z" fill="#0000ff"/>
<path d="M231.25 187.60L233.75 191.80H228.75Z" fill="#0000ff"/>
<path d="M237.98 187.60L240.48 191.80H235.48Z" fill="#0000ff"/>
<path d="M244.70 187.60L247.20 191.80H242.20Z" fill="#0000ff"/>
<path d="M251.42 187.60L253.92 191.80H248.92Z" fill="#0000ff"/>
<path d="M258.15 187.60L260.65 191.80H255.65Z" fill="#0000ff"/>
<path d="M264.87 187.60L267.37 191.80H262.37Z" fill="#0000ff"/>
<path d="M271.59 187.60L274.09 191.80H269.09Z" fill="#0000ff"/>
<path d="M278.31 187.60L280.81 191.80H275.81Z" fill="#0000ff"/>
<path d="M285.04 187.60L287.54 191.80H282.54Z" fill="#0000ff"/>
<path d="M291.76 187.60L294.26 191.80H289.26Z" fill="#0000ff"/>
<path d="M298.48 187.60L300.98 191.80H295.98Z" fill="#0000ff"/>
<path d="M305.21 187.60L307.71 191.80H302.71Z" fill="#0000ff"/>
<path d="M311.93 187.60L314.43 191.80H309.43Z" fill="#0000ff"/>
<path d="M318.65 187.60L321.15 191.80H316.15Z" fill="#0000ff"/>
</g>
<path d="M145.7 38.6H173.4" stroke="#8a8a8a" stroke-width="1.25" fill="none"/>
<path d="M157.40 38.60H161.60M159.50 36.50V40.70" stroke="#7a7a7a" stroke-width="1.2" fill="none"/>
<path d="M145.7 48.35H173.4" stroke="#00ff00" stroke-width="1.25" fill="none"/>
<path d="M156.80 48.35H162.20M159.50 45.65V51.05M157.20 46.05L161.80 50.65M157.20 50.65L161.80 46.05" stroke="#00ff00" stroke-width="1.05" fill="none"/>
<path d="M145.7 58.1H173.4" stroke="#000000" stroke-width="1.25" fill="none"/>
<rect x="157.20" y="55.80" width="4.60" height="4.60" fill="#000000"/>
<path d="M145.7 67.85H173.4" stroke="#ff8c1e" stroke-width="1.25" fill="none"/>
<circle cx="159.50" cy="67.85" r="2.15" fill="none" stroke="#ff8c1e" stroke-width="1.25"/>
<path d="M145.7 77.6H173.4" stroke="#ff0000" stroke-width="1.25" fill="none"/>
<circle cx="159.50" cy="77.60" r="2.5" fill="#ff0000"/>
<path d="M145.7 87.35H173.4" stroke="#8000ff" stroke-width="1.25" fill="none"/>
<path d="M159.50 84.65L161.90 88.85H157.10Z" fill="#8000ff" fill-opacity="0.4" stroke="#8000ff" stroke-width="1.1" stroke-linejoin="miter"/>
<path d="M145.7 97.1H173.4" stroke="#0000ff" stroke-width="1.25" fill="none"/>
<path d="M159.50 94.10L162.00 98.30H157.00Z" fill="#0000ff"/>
<g opacity="0.996">
<text x="140.1" y="41.90" text-anchor="end" style="font-size:9.9px">n=2.60</text>
<text x="140.1" y="51.65" text-anchor="end" style="font-size:9.9px">n=2.40</text>
<text x="140.1" y="61.40" text-anchor="end" style="font-size:9.9px">n=2.20</text>
<text x="140.1" y="71.15" text-anchor="end" style="font-size:9.9px">n=2.15</text>
<text x="140.1" y="80.90" text-anchor="end" style="font-size:9.9px">n=2.10</text>
<text x="140.1" y="90.65" text-anchor="end" style="font-size:9.9px">n=2.05</text>
<text x="140.1" y="100.40" text-anchor="end" style="font-size:9.9px">n=2.00</text>
<text x="50.80" y="219.9" text-anchor="middle">0</text>
<text x="202.30" y="219.9" text-anchor="middle">0</text>
<text x="74.20" y="219.9" text-anchor="middle">0.5</text>
<text x="223.70" y="219.9" text-anchor="middle">0.5</text>
<text x="97.60" y="219.9" text-anchor="middle">1</text>
<text x="245.10" y="219.9" text-anchor="middle">1</text>
<text x="121.00" y="219.9" text-anchor="middle">1.5</text>
<text x="266.50" y="219.9" text-anchor="middle">1.5</text>
<text x="144.40" y="219.9" text-anchor="middle">2</text>
<text x="287.90" y="219.9" text-anchor="middle">2</text>
<text x="167.80" y="219.9" text-anchor="middle">2.5</text>
<text x="309.30" y="219.9" text-anchor="middle">2.5</text>
<text x="43.4" y="193.60" text-anchor="end">0</text>
<text x="43.4" y="166.78" text-anchor="end">0.5</text>
<text x="43.4" y="139.97" text-anchor="end">1</text>
<text x="43.4" y="113.16" text-anchor="end">1.5</text>
<text x="43.4" y="86.34" text-anchor="end">2</text>
<text x="43.4" y="59.52" text-anchor="end">2.5</text>
<text x="43.4" y="32.71" text-anchor="end">3</text>
<text x="117.5" y="18.3" style="font-size:9.7px" text-anchor="middle">wide band</text>
<text x="263.2" y="18.3" style="font-size:9.7px" text-anchor="middle">narrow band</text>
<text x="7.6" y="27.1">b)</text>
<text transform="translate(111.90 233.30) scale(0.86 1)" style="font-size:10.4px">ω</text><text x="118.70" y="236.30" style="font-size:7.7px">n</text>
<text transform="translate(257.60 233.30) scale(0.86 1)" style="font-size:10.4px">ω</text><text x="264.40" y="236.30" style="font-size:7.7px">n</text>
<g transform="translate(13.3 151.8) rotate(-90)"><text x="0" y="0">ReΣ(U=2.4, i</text><text transform="translate(54.40 0.00) scale(0.86 1)" style="font-size:10.4px">ω</text><text x="60.40" y="3.00" style="font-size:7.7px">n</text><text x="64.2" y="0">)</text></g>
</g>
</svg>
</body></html>
